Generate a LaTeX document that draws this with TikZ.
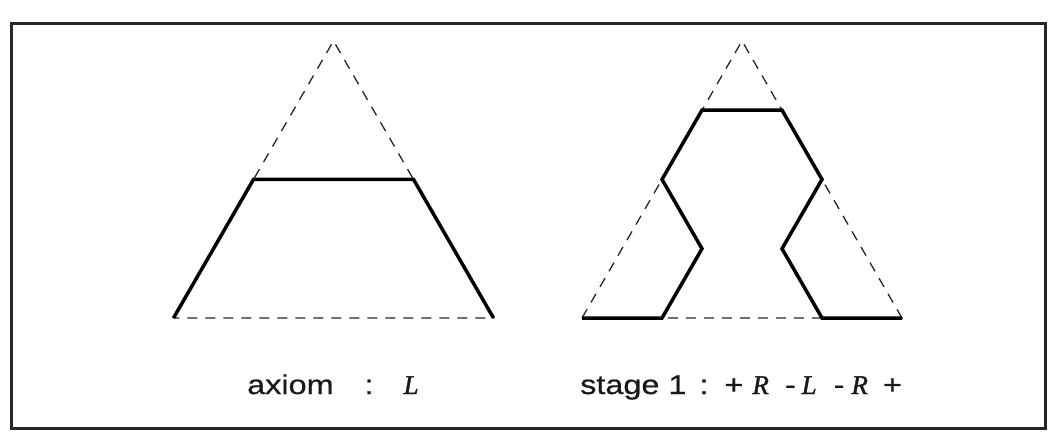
\documentclass[tikz,border=0pt]{standalone}
\usepackage{fontspec}
\newfontfamily\lab[FakeStretch=1.2,FakeBold=0.6]{Liberation Sans}
\newfontfamily\labit[FakeBold=1.2]{Liberation Serif Italic}
\begin{document}
\begin{tikzpicture}[x=1pt,y=-1pt,
  frame/.style={draw=black!85,line width=3pt},
  edge/.style={draw=black!85,line width=1.3pt,dash pattern=on 10pt off 8pt},
  bold/.style={draw=black,line width=3.5pt,line join=miter},
  lbl/.style={anchor=base west,inner sep=0pt,font=\fontsize{27}{30}\lab,text=black!90}]
\useasboundingbox (0,0) rectangle (1049,432);
\fill[white] (0,0) rectangle (1049,432);
\draw[frame] (11,23) rectangle (1045,428);
% axiom triangle
\coordinate (A1) at (173.5,318);
\coordinate (A2) at (493.5,318);
\coordinate (A3) at (333.5,40.9);
\coordinate (AL) at (253.5,179.4);
\coordinate (AR) at (413.5,179.4);
\draw[edge] (A1) -- (A3) -- (A2) -- cycle;
\draw[bold] (A1) -- (AL) -- (AR) -- (A2);
% stage 1 triangle
\coordinate (B1) at (582,318);
\coordinate (B2) at (902,318);
\coordinate (B3) at (742,40.9);
\coordinate (p1) at (662,318);
\coordinate (p2) at (702,248.7);
\coordinate (p3) at (662,179.4);
\coordinate (p4) at (702,110.1);
\coordinate (p5) at (782,110.1);
\coordinate (p6) at (822,179.4);
\coordinate (p7) at (782,248.7);
\coordinate (p8) at (822,318);
\draw[edge] (B1) -- (B3) -- (B2) -- cycle;
\draw[bold] (B1) -- (p1) -- (p2) -- (p3) -- (p4) -- (p5) -- (p6) -- (p7) -- (p8) -- (B2);
% labels
\node[lbl] (ax) at (247,394) {axiom\hspace{31pt}:\hspace{30pt}{\labit L}};
\node[lbl] (st) at (580,394) {stage 1\hspace{13pt}:\hspace{16pt}+\hspace{9pt}{\labit R}\hspace{16pt}-\hspace{6pt}{\labit L}\hspace{17pt}-\hspace{7pt}{\labit R}\hspace{15pt}+};
\end{tikzpicture}
\end{document}
